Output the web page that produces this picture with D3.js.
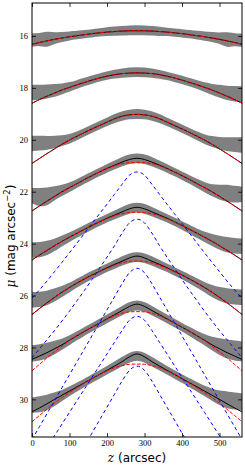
<!DOCTYPE html>
<html><head><meta charset="utf-8">
<script src="https://cdn.jsdelivr.net/npm/d3@7"></script>
<style>body{margin:0;background:#fff}svg{display:block}</style>
</head><body>
<svg id="c" width="245" height="467"></svg>
<script>
// ---- data ----
const zGrid = [0,20,40,60,80,100,120,140,160,180,200,220,240,260,280,300,320,340,360,380,400,420,440,460,480,500,520,540,560];
const xTicks = [0,100,200,300,400,500];
const yTicks = [16,18,20,22,24,26,28,30];

// gray data bands (centre, half-width in mag)
const gray1 = [16.16,16.13,16.14,16.08,16.04,16.0,15.96,15.93,15.9,15.86,15.83,15.81,15.8,15.78,15.78,15.78,15.8,15.82,15.84,15.87,15.9,15.93,15.97,16.0,16.04,16.08,16.15,16.14,16.17];
const gray2 = [18.18,18.17,18.14,18.1,18.04,17.96,17.87,17.77,17.68,17.6,17.53,17.47,17.43,17.4,17.39,17.4,17.43,17.48,17.54,17.61,17.69,17.78,17.87,17.97,18.06,18.13,18.2,18.23,18.25];
const gray3 = [20.14,20.13,20.12,20.09,20.04,19.97,19.85,19.71,19.57,19.44,19.31,19.18,19.08,19.02,19.0,19.02,19.08,19.18,19.31,19.44,19.57,19.71,19.85,19.98,20.07,20.13,20.17,20.19,20.2];
const gray4 = [22.15,22.22,22.2,22.05,21.95,21.83,21.68,21.53,21.38,21.24,21.1,20.97,20.84,20.74,20.7,20.74,20.84,20.97,21.1,21.24,21.38,21.53,21.68,21.83,21.95,22.02,22.06,22.1,22.1];
const gray5 = [24.25,24.24,24.18,24.05,23.9,23.75,23.6,23.45,23.3,23.16,23.02,22.9,22.77,22.65,22.6,22.65,22.77,22.9,23.02,23.16,23.3,23.45,23.6,23.74,23.86,23.97,24.05,24.08,24.1];
const gray6 = [26.17,26.15,26.1,25.98,25.85,25.69,25.52,25.36,25.21,25.07,24.93,24.8,24.67,24.55,24.5,24.55,24.67,24.8,24.93,25.07,25.21,25.36,25.52,25.68,25.83,25.95,26.02,26.05,26.07];
const gray7 = [28.23,28.2,28.12,28.0,27.88,27.72,27.55,27.38,27.22,27.06,26.9,26.74,26.58,26.43,26.36,26.43,26.58,26.74,26.9,27.06,27.22,27.38,27.55,27.7,27.85,27.97,28.06,28.12,28.15];
const gray8 = [30.22,30.2,30.12,30.0,29.85,29.68,29.52,29.36,29.2,29.04,28.88,28.72,28.55,28.38,28.3,28.38,28.55,28.72,28.88,29.04,29.2,29.36,29.52,29.67,29.82,29.94,30.02,30.07,30.1];
const spread1 = [0.22,0.2,0.28,0.18,0.15,0.13,0.13,0.12,0.12,0.12,0.13,0.14,0.15,0.15,0.15,0.15,0.15,0.14,0.12,0.12,0.12,0.12,0.13,0.14,0.15,0.17,0.27,0.2,0.22];
const spread2 = [0.26,0.25,0.23,0.21,0.17,0.14,0.13,0.12,0.12,0.12,0.12,0.13,0.14,0.15,0.15,0.15,0.14,0.13,0.12,0.12,0.12,0.12,0.13,0.14,0.17,0.21,0.24,0.26,0.27];
const spread3 = [0.26,0.25,0.23,0.2,0.17,0.14,0.13,0.12,0.12,0.12,0.12,0.13,0.14,0.15,0.15,0.15,0.14,0.13,0.12,0.12,0.12,0.12,0.13,0.14,0.17,0.2,0.23,0.25,0.26];
const spread4 = [0.26,0.32,0.32,0.22,0.17,0.14,0.13,0.12,0.12,0.12,0.12,0.13,0.14,0.15,0.15,0.15,0.14,0.13,0.12,0.12,0.12,0.12,0.13,0.15,0.19,0.25,0.3,0.28,0.26];
const spread5 = [0.26,0.26,0.24,0.2,0.16,0.14,0.13,0.12,0.12,0.12,0.12,0.13,0.14,0.15,0.15,0.15,0.14,0.13,0.12,0.12,0.12,0.13,0.14,0.15,0.19,0.23,0.26,0.26,0.26];
const spread6 = [0.26,0.26,0.24,0.21,0.17,0.14,0.13,0.12,0.12,0.12,0.12,0.13,0.14,0.15,0.15,0.15,0.14,0.13,0.12,0.12,0.12,0.13,0.14,0.15,0.19,0.23,0.26,0.26,0.26];
const spread7 = [0.28,0.28,0.26,0.22,0.17,0.14,0.13,0.12,0.12,0.12,0.12,0.13,0.14,0.15,0.15,0.15,0.14,0.13,0.12,0.12,0.12,0.13,0.15,0.17,0.22,0.28,0.33,0.35,0.35];
const spread8 = [0.26,0.28,0.26,0.22,0.17,0.14,0.13,0.12,0.12,0.12,0.12,0.13,0.14,0.15,0.15,0.15,0.14,0.13,0.12,0.12,0.12,0.13,0.14,0.15,0.19,0.24,0.29,0.29,0.29];

// total model (black solid)
const total1 = [16.32,16.25,16.19,16.13,16.08,16.03,15.99,15.95,15.91,15.88,15.85,15.83,15.81,15.80,15.80,15.80,15.81,15.83,15.85,15.88,15.91,15.95,15.99,16.03,16.08,16.13,16.19,16.25,16.32];
const total2 = [18.59,18.45,18.32,18.20,18.08,17.98,17.88,17.79,17.70,17.62,17.55,17.49,17.45,17.43,17.42,17.43,17.45,17.49,17.55,17.62,17.70,17.79,17.88,17.98,18.08,18.20,18.32,18.45,18.59];
const total3 = [20.91,20.72,20.53,20.35,20.17,20.01,19.86,19.72,19.58,19.45,19.32,19.19,19.09,19.04,19.02,19.04,19.09,19.19,19.32,19.45,19.58,19.72,19.86,20.01,20.17,20.35,20.53,20.72,20.91];
const total4 = [22.74,22.55,22.36,22.18,22.00,21.84,21.69,21.53,21.38,21.24,21.10,20.98,20.86,20.76,20.71,20.76,20.86,20.98,21.10,21.24,21.38,21.53,21.69,21.84,22.00,22.18,22.36,22.55,22.74];
const total5 = [24.63,24.44,24.26,24.08,23.91,23.75,23.60,23.45,23.30,23.16,23.02,22.90,22.78,22.66,22.60,22.66,22.78,22.90,23.02,23.16,23.30,23.45,23.60,23.75,23.91,24.08,24.26,24.44,24.63];
const total6 = [26.73,26.50,26.28,26.07,25.87,25.69,25.52,25.36,25.21,25.07,24.93,24.80,24.68,24.55,24.48,24.55,24.68,24.80,24.93,25.07,25.21,25.36,25.52,25.69,25.87,26.07,26.28,26.50,26.73];
const total7 = [28.46,28.33,28.20,28.05,27.90,27.72,27.55,27.38,27.22,27.06,26.90,26.74,26.58,26.42,26.33,26.42,26.58,26.74,26.90,27.06,27.22,27.38,27.55,27.72,27.90,28.05,28.20,28.33,28.46];
const total8 = [30.48,30.33,30.17,30.00,29.84,29.68,29.52,29.36,29.20,29.04,28.88,28.72,28.55,28.36,28.25,28.36,28.55,28.72,28.88,29.04,29.20,29.36,29.52,29.68,29.84,30.00,30.17,30.33,30.48];

// thick component (red dashed)
const thick1 = total1, thick2 = total2, thick3 = total3;
const thick4 = [22.74,22.55,22.36,22.18,22.00,21.84,21.69,21.53,21.38,21.24,21.11,21.00,20.92,20.88,20.87,20.88,20.92,21.00,21.11,21.24,21.38,21.53,21.69,21.84,22.00,22.18,22.36,22.55,22.74];
const thick5 = [24.63,24.44,24.26,24.08,23.91,23.75,23.60,23.45,23.30,23.16,23.04,22.93,22.85,22.80,22.79,22.80,22.85,22.93,23.04,23.16,23.30,23.45,23.60,23.75,23.91,24.08,24.26,24.44,24.63];
const thick6 = [26.73,26.50,26.28,26.07,25.87,25.69,25.52,25.36,25.21,25.08,24.95,24.84,24.74,24.68,24.67,24.68,24.74,24.84,24.95,25.08,25.21,25.36,25.52,25.69,25.87,26.07,26.28,26.50,26.73];
const thick7 = [28.90,28.65,28.40,28.17,27.95,27.73,27.55,27.38,27.22,27.06,26.91,26.78,26.68,26.63,26.62,26.63,26.68,26.78,26.91,27.06,27.22,27.38,27.55,27.73,27.95,28.17,28.40,28.65,28.90];
const thick8 = [30.86,30.62,30.38,30.14,29.93,29.74,29.55,29.37,29.20,29.04,28.90,28.78,28.70,28.65,28.64,28.65,28.70,28.78,28.90,29.04,29.20,29.37,29.55,29.74,29.93,30.14,30.38,30.62,30.86];

// thin component (blue dashed)
const thin4 = [26.10,25.78,25.44,25.08,24.72,24.35,23.98,23.60,23.22,22.85,22.48,22.10,21.72,21.36,21.24,21.36,21.72,22.10,22.48,22.85,23.22,23.60,23.98,24.35,24.72,25.08,25.44,25.78,26.10];
const thin5 = [28.40,28.05,27.70,27.35,26.98,26.60,26.20,25.80,25.38,24.95,24.52,24.08,23.60,23.20,23.06,23.20,23.60,24.08,24.52,24.95,25.38,25.80,26.20,26.60,26.98,27.35,27.70,28.05,28.40];
const thin6 = [31.55,31.05,30.55,30.05,29.55,29.05,28.55,28.05,27.55,27.05,26.55,26.05,25.55,25.12,24.95,25.12,25.55,26.05,26.55,27.05,27.55,28.05,28.55,29.05,29.55,30.05,30.55,31.05,31.55];
const thin7 = [32.75,32.30,31.85,31.40,30.95,30.50,30.05,29.60,29.15,28.70,28.25,27.80,27.35,26.95,26.80,26.95,27.35,27.80,28.25,28.70,29.15,29.60,30.05,30.50,30.95,31.40,31.85,32.30,32.75];
const thin8 = [35.3,34.8,34.3,33.8,33.3,32.8,32.3,31.8,31.3,30.8,30.3,29.8,29.3,28.88,28.72,28.88,29.3,29.8,30.3,30.8,31.3,31.8,32.3,32.8,33.3,33.8,34.3,34.8,35.3];

const grays = [gray1,gray2,gray3,gray4,gray5,gray6,gray7,gray8];
const spreads = [spread1,spread2,spread3,spread4,spread5,spread6,spread7,spread8];
const totals = [total1,total2,total3,total4,total5,total6,total7,total8];
const thicks = [thick1,thick2,thick3,thick4,thick5,thick6,thick7,thick8];
const thins = [thin4,thin5,thin6,thin7,thin8];

// ---- drawing ----
const svg = d3.select("#c");
const L=32, R=242, T=3, B=437;
const x = d3.scaleLinear([0,560],[L,R]);
const y = d3.scaleLinear([14.73,31.45],[T,B]);

svg.append("defs").append("clipPath").attr("id","clip")
  .append("rect").attr("x",L).attr("y",T).attr("width",R-L).attr("height",B-T);
const g = svg.append("g").attr("clip-path","url(#clip)");

const area = d3.area().x((d,i)=>x(zGrid[i])).curve(d3.curveBasis);
grays.forEach((arr,k)=>{
  const sp = spreads[k];
  g.append("path")
    .attr("d", area.y0((d,i)=>y(d - sp[i])).y1((d,i)=>y(d + sp[i]))(arr))
    .attr("fill","#808080").attr("stroke","#808080").attr("stroke-width",2).attr("stroke-linejoin","round");
});

const line = d3.line().x((d,i)=>x(zGrid[i])).y(d=>y(d)).curve(d3.curveMonotoneX);
totals.forEach(arr=>{
  g.append("path").attr("d",line(arr)).attr("fill","none").attr("stroke","#000").attr("stroke-width",1);
});
thicks.forEach(arr=>{
  g.append("path").attr("d",line(arr)).attr("fill","none").attr("stroke","#ff0000").attr("stroke-width",1)
    .attr("stroke-dasharray","3.7,1.6");
});
thins.forEach(arr=>{
  g.append("path").attr("d",line(arr)).attr("fill","none").attr("stroke","#0000ff").attr("stroke-width",1)
    .attr("stroke-dasharray","3.5,3");
});

// axes
const tickFont = "'Liberation Serif', 'DejaVu Serif', serif";
function styleAxis(sel, showLabels){
  sel.select(".domain").remove();
  sel.selectAll(".tick line").attr("stroke","#000").attr("stroke-width",0.8);
  sel.selectAll(".tick text").attr("font-family",tickFont).attr("font-size",8.5).attr("fill","#000");
  if(!showLabels) sel.selectAll(".tick text").remove();
}
styleAxis(svg.append("g").attr("transform",`translate(0,${B})`)
  .call(d3.axisBottom(x).tickValues(xTicks).tickSize(-4).tickPadding(3).tickFormat(d3.format("d"))), true);
styleAxis(svg.append("g").attr("transform",`translate(0,${T})`)
  .call(d3.axisTop(x).tickValues(xTicks).tickSize(-4)), false);
styleAxis(svg.append("g").attr("transform",`translate(${L},0)`)
  .call(d3.axisLeft(y).tickValues(yTicks).tickSize(-4).tickPadding(4).tickFormat(d3.format("d"))), true);
styleAxis(svg.append("g").attr("transform",`translate(${R},0)`)
  .call(d3.axisRight(y).tickValues(yTicks).tickSize(-4)), false);

svg.append("rect").attr("x",L).attr("y",T).attr("width",R-L).attr("height",B-T)
  .attr("fill","none").attr("stroke","#000").attr("stroke-width",1);

// axis titles
const xt = svg.append("text").attr("x",(L+R)/2).attr("y",462).attr("text-anchor","middle")
  .attr("font-size",12).attr("font-family","'DejaVu Sans', sans-serif");
xt.append("tspan").attr("font-family","'DejaVu Serif', serif").attr("font-style","italic").text("z");
xt.append("tspan").text(" (arcsec)");

const yt = svg.append("text").attr("transform","translate(15,236) rotate(-90)").attr("text-anchor","middle")
  .attr("font-size",12).attr("font-family","'DejaVu Sans', sans-serif");
yt.append("tspan").attr("font-family","'DejaVu Serif', serif").attr("font-style","italic").text("μ");
yt.append("tspan").text(" (mag arcsec");
yt.append("tspan").attr("font-size",8.5).attr("dy",-5).text("−2");
yt.append("tspan").attr("dy",5).text(")");
</script>
</body></html>
